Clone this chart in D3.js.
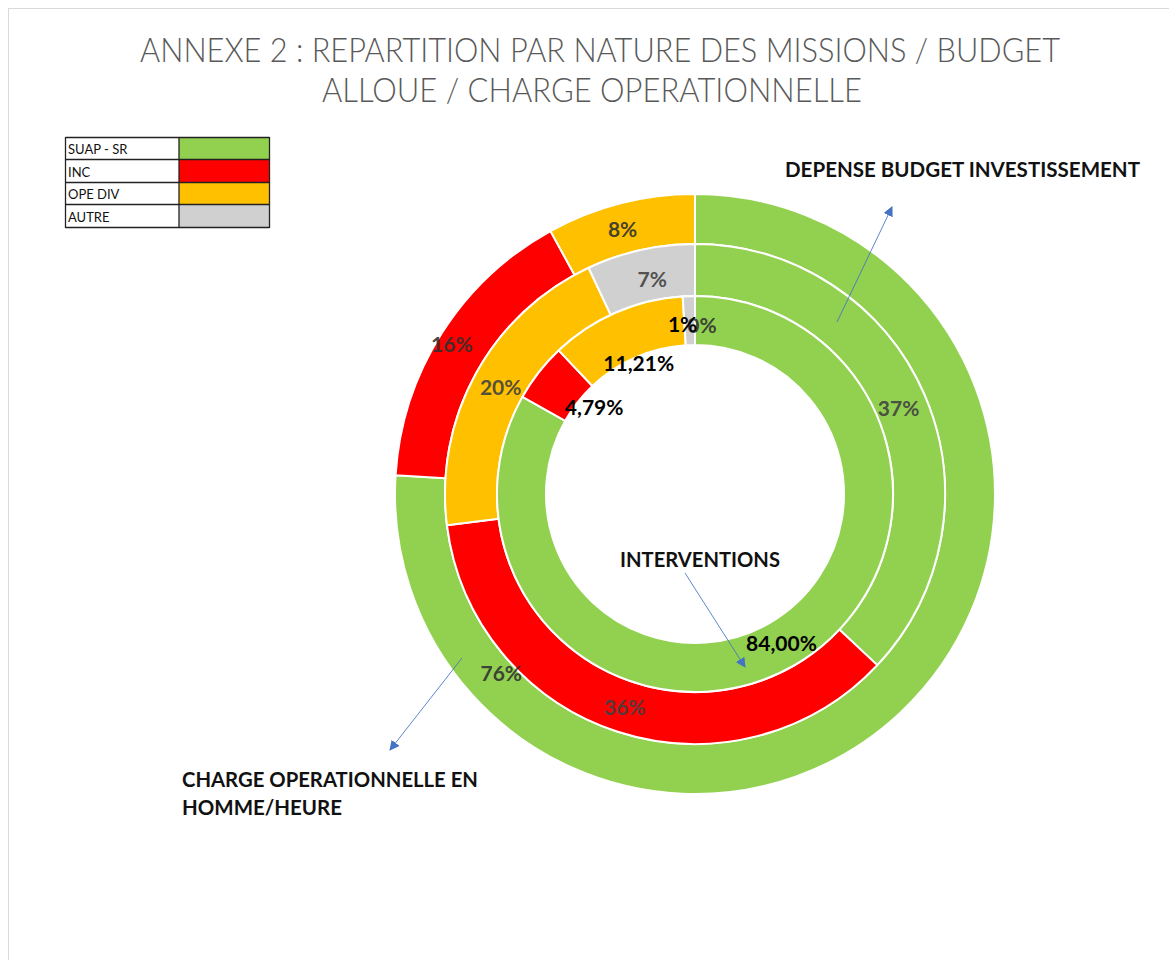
<!DOCTYPE html>
<html>
<head>
<meta charset="utf-8">
<script src="https://cdn.jsdelivr.net/npm/d3@7"></script>
<style>
  html, body { margin: 0; padding: 0; background: #fff; }
  svg { display: block; }
</style>
</head>
<body>
<svg id="chart" width="1169" height="960"></svg>
<script>
// Mission categories and their colours
const categories = ["SUAP - SR", "INC", "OPE DIV", "AUTRE"];
const categoryColors = ["#92D050", "#FF0000", "#FFC000", "#D0D0D0"];

// Outer ring: charge opérationnelle en homme/heure
const chargeValues = [76, 16, 8, 0];
const chargeLabels = ["76%", "16%", "8%", "0%"];

// Middle ring: dépense budget investissement
const budgetValues = [37, 36, 20, 7];
const budgetLabels = ["37%", "36%", "20%", "7%"];

// Inner ring: interventions
const interventionValues = [84.00, 4.79, 11.21, 1];
const interventionLabels = ["84,00%", "4,79%", "11,21%", "1%"];

const titleLines = [
  "ANNEXE 2 : REPARTITION PAR NATURE DES MISSIONS / BUDGET",
  "ALLOUE / CHARGE OPERATIONNELLE"
];

const svg = d3.select("#chart");
const cx = 695, cy = 494;

// page frame
svg.append("rect")
  .attr("x", 8.5).attr("y", 8.5)
  .attr("width", 1300).attr("height", 1100)
  .attr("fill", "none").attr("stroke", "#d9d9d9");

// title
const titleLayout = [{x: 600, y: 62, w: 920}, {x: 592, y: 102, w: 540}];
svg.selectAll("text.title").data(titleLines).join("text")
  .attr("class", "title")
  .attr("x", (d, i) => titleLayout[i].x)
  .attr("y", (d, i) => titleLayout[i].y)
  .attr("text-anchor", "middle")
  .attr("textLength", (d, i) => titleLayout[i].w)
  .attr("lengthAdjust", "spacingAndGlyphs")
  .attr("font-family", "Lato, 'Open Sans', sans-serif")
  .attr("font-weight", 300)
  .attr("font-size", 33)
  .attr("fill", "#595959")
  .text(d => d);

// rings
const rings = [
  {values: chargeValues, labels: chargeLabels, inner: 250, outer: 300, color: "#303030",
   nudge: [[-382, -22], [-11, -3], [-4, 1], [7, 105]]},
  {values: budgetValues, labels: budgetLabels, inner: 198, outer: 250, color: "#404040",
   nudge: [[-2, 2], [-1, -1], [2, 0], [6, 3]]},
  {values: interventionValues, labels: interventionLabels, inner: 149, outer: 198, color: "#000000",
   nudge: [[-1, -1], [36, 19], [13, 28], [-7, 3]]}
];

const pie = d3.pie().sort(null).value(d => d);
const g = svg.append("g").attr("transform", `translate(${cx},${cy})`);
const sliceLayer = g.append("g").attr("class", "slices");
const labelLayer = g.append("g").attr("class", "labels");

rings.forEach((ring, ri) => {
  const arc = d3.arc().innerRadius(ring.inner).outerRadius(ring.outer);
  const arcs = pie(ring.values);
  sliceLayer.append("g").attr("class", "ring ring-" + ri)
    .selectAll("path").data(arcs).join("path")
    .attr("d", arc)
    .attr("fill", (d, i) => categoryColors[i])
    .attr("stroke", "#ffffff")
    .attr("stroke-width", 2)
    .attr("stroke-linejoin", "round");
  labelLayer.append("g").attr("class", "ring-labels ring-labels-" + ri)
    .selectAll("text").data(arcs).join("text")
    .attr("x", (d, i) => arc.centroid(d)[0] + ring.nudge[i][0])
    .attr("y", (d, i) => arc.centroid(d)[1] + ring.nudge[i][1])
    .attr("text-anchor", "middle")
    .attr("dominant-baseline", "central")
    .attr("font-family", "Lato, 'Open Sans', sans-serif")
    .attr("font-weight", 700)
    .attr("font-size", 21)
    .attr("fill", ring.color)
    .attr("fill-opacity", ri === 2 ? 1 : 0.9)
    .text((d, i) => ring.labels[i]);
});

// legend table
const legendRows = [137, 159, 182, 204, 227];
const lg = svg.append("g").attr("class", "legend");
categories.forEach((c, i) => {
  lg.append("rect")
    .attr("x", 179).attr("y", legendRows[i])
    .attr("width", 90).attr("height", legendRows[i + 1] - legendRows[i])
    .attr("fill", categoryColors[i]);
  lg.append("text")
    .attr("x", 68).attr("y", legendRows[i + 1] - 5)
    .attr("font-family", "Lato, 'Open Sans', sans-serif")
    .attr("font-size", 13)
    .attr("fill", "#111")
    .text(c);
});
lg.selectAll("line.h").data(legendRows).join("line")
  .attr("x1", 65.5).attr("x2", 269.5)
  .attr("y1", d => d + 0.5).attr("y2", d => d + 0.5)
  .attr("stroke", "#222").attr("stroke-width", 1.3);
lg.selectAll("line.v").data([65.5, 179, 269.5]).join("line")
  .attr("x1", d => d).attr("x2", d => d)
  .attr("y1", 137).attr("y2", 228)
  .attr("stroke", "#222").attr("stroke-width", 1.3);

// annotation arrows
const defs = svg.append("defs");
defs.append("marker")
  .attr("id", "head").attr("viewBox", "0 0 10 10")
  .attr("refX", 9).attr("refY", 5)
  .attr("markerWidth", 10).attr("markerHeight", 10)
  .attr("markerUnits", "userSpaceOnUse")
  .attr("orient", "auto")
  .append("path").attr("d", "M0,0 L10,5 L0,10 Z").attr("fill", "#4472C4");

const arrows = [
  [837, 322, 892, 207],
  [685, 573, 745, 667],
  [462, 658, 390, 750]
];
svg.selectAll("line.arrow").data(arrows).join("line")
  .attr("class", "arrow")
  .attr("x1", d => d[0]).attr("y1", d => d[1])
  .attr("x2", d => d[2]).attr("y2", d => d[3])
  .attr("stroke", "#4472C4").attr("stroke-opacity", 0.85)
  .attr("stroke-width", 1)
  .attr("marker-end", "url(#head)");

// annotation texts
const notes = [
  {t: "DEPENSE  BUDGET INVESTISSEMENT", x: 785, y: 177, w: 355},
  {t: "INTERVENTIONS", x: 620, y: 567, w: 160},
  {t: "CHARGE OPERATIONNELLE EN", x: 182, y: 787, w: 296},
  {t: "HOMME/HEURE", x: 182, y: 815, w: 160}
];
svg.selectAll("text.note").data(notes).join("text")
  .attr("class", "note")
  .attr("x", d => d.x).attr("y", d => d.y)
  .attr("textLength", d => d.w)
  .attr("lengthAdjust", "spacingAndGlyphs")
  .attr("font-family", "Lato, 'Open Sans', sans-serif")
  .attr("font-weight", 700)
  .attr("font-size", 20)
  .attr("fill", "#111")
  .text(d => d.t);
</script>
</body>
</html>
